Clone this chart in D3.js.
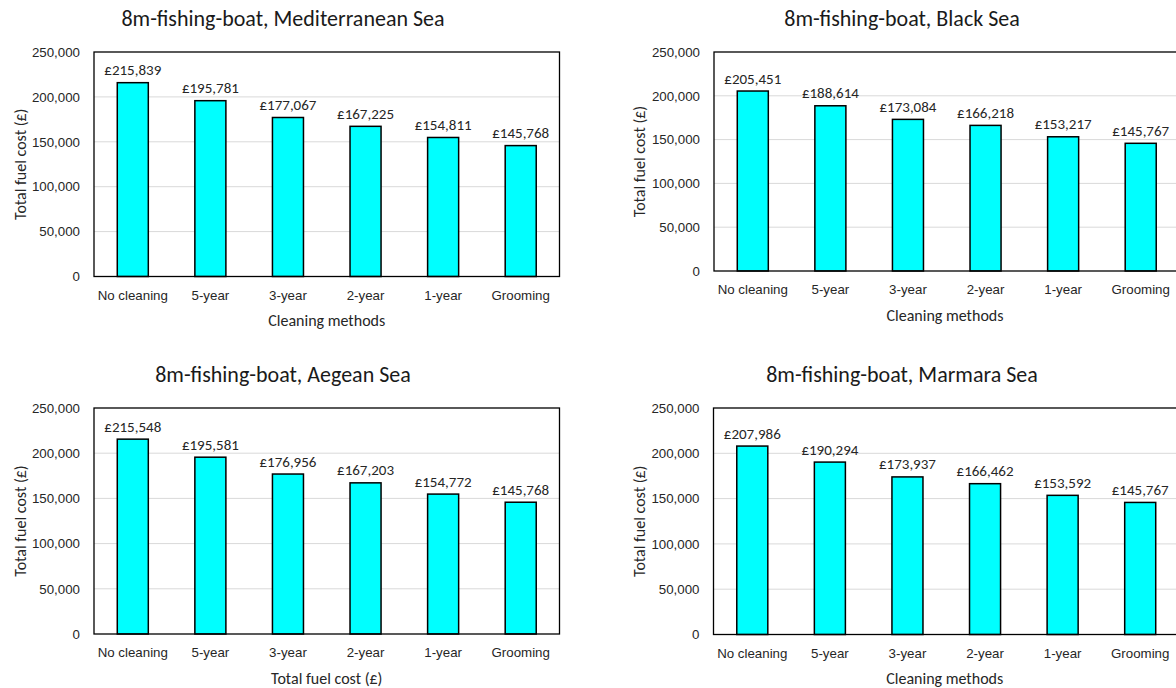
<!DOCTYPE html>
<html><head><meta charset="utf-8">
<script src="https://cdn.jsdelivr.net/npm/d3@7"></script>
<style>
body{margin:0;background:#fff;}
svg{display:block;font-family:Calibri,Carlito,Lato,"Open Sans",sans-serif;}
</style></head>
<body><svg id="c" width="1176" height="688"></svg>
<script>
const categories = ["No cleaning","5-year","3-year","2-year","1-year","Grooming"];
const yTicks = [0,50000,100000,150000,200000,250000];
const titles = ["8m-fishing-boat, Mediterranean Sea","8m-fishing-boat, Black Sea","8m-fishing-boat, Aegean Sea","8m-fishing-boat, Marmara Sea"];
const xTitles = ["Cleaning methods","Cleaning methods","Total fuel cost (£)","Cleaning methods"];
const yTitle = "Total fuel cost (£)";
const mediterranean = [215839,195781,177067,167225,154811,145768];
const blackSea = [205451,188614,173084,166218,153217,145767];
const aegean = [215548,195581,176956,167203,154772,145768];
const marmara = [207986,190294,173937,166462,153592,145767];
const seriesList = [mediterranean, blackSea, aegean, marmara];

// layout per panel
const panels = [
  {left:94, right:559.5, top:52, bottom:276.5, cx:283, titleY:25.5, yTitleX:20},
  {left:714, right:1179.5, top:52, bottom:271, cx:902, titleY:26, yTitleX:639},
  {left:94, right:559.5, top:408, bottom:634, cx:283, titleY:382, yTitleX:20},
  {left:713.5, right:1179, top:408, bottom:634.5, cx:902, titleY:382, yTitleX:639}
];

const svg = d3.select("#c");
const fmt = d3.format(",");

panels.forEach((p,i)=>{
  const data = seriesList[i];
  const g = svg.append("g");
  const x = d3.scaleBand().domain(categories).range([p.left,p.right]).paddingInner(0.6).paddingOuter(0.3);
  const y = d3.scaleLinear().domain([0,250000]).range([p.bottom,p.top]);

  // gridlines
  g.selectAll(".grid").data(yTicks.filter(t=>t>0 && t<250000)).join("line")
    .attr("x1",p.left).attr("x2",p.right)
    .attr("y1",d=>y(d)).attr("y2",d=>y(d))
    .attr("stroke","#d9d9d9").attr("stroke-width",1);

  // bars
  g.selectAll(".bar").data(data).join("rect")
    .attr("x",(d,j)=>x(categories[j]))
    .attr("width",x.bandwidth())
    .attr("y",d=>y(d))
    .attr("height",d=>p.bottom-y(d))
    .attr("fill","#00ffff").attr("stroke","#000").attr("stroke-width",1.5);

  // plot border
  g.append("rect").attr("x",p.left).attr("y",p.top)
    .attr("width",p.right-p.left).attr("height",p.bottom-p.top)
    .attr("fill","none").attr("stroke","#000").attr("stroke-width",1.3);

  // data labels
  g.selectAll(".lbl").data(data).join("text")
    .attr("x",(d,j)=>x(categories[j])+x.bandwidth()/2)
    .attr("y",d=>y(d)-7.5)
    .attr("text-anchor","middle").attr("font-size",15).attr("fill","#262626")
    .text(d=>"£"+fmt(d));

  // y axis
  const ya = d3.axisLeft(y).tickValues(yTicks).tickFormat(fmt).tickSize(0).tickPadding(14);
  const yg = g.append("g").attr("transform",`translate(${p.left},0)`).call(ya);
  yg.select(".domain").remove();
  yg.selectAll("text").attr("font-size",13.3).attr("fill","#262626").attr("font-family","inherit");

  // x axis
  const xa = d3.axisBottom(x).tickSize(0).tickPadding(14);
  const xg = g.append("g").attr("transform",`translate(0,${p.bottom})`).call(xa);
  xg.select(".domain").remove();
  xg.selectAll("text").attr("font-size",13.3).attr("fill","#262626").attr("font-family","inherit");

  // axis titles
  g.append("text").attr("x",(p.left+Math.min(p.right,1176))/2).attr("y",p.bottom+49.5)
    .attr("text-anchor","middle").attr("font-size",16).attr("fill","#262626")
    .text(xTitles[i]);
  g.append("text").attr("transform",`translate(${p.yTitleX+6},${(p.top+p.bottom)/2}) rotate(-90)`)
    .attr("text-anchor","middle").attr("font-size",16).attr("fill","#262626")
    .text(yTitle);

  // chart title
  g.append("text").attr("x",p.cx).attr("y",p.titleY)
    .attr("text-anchor","middle").attr("font-size",22).attr("fill","#1a1a1a")
    .text(titles[i]);
});
</script></body></html>
